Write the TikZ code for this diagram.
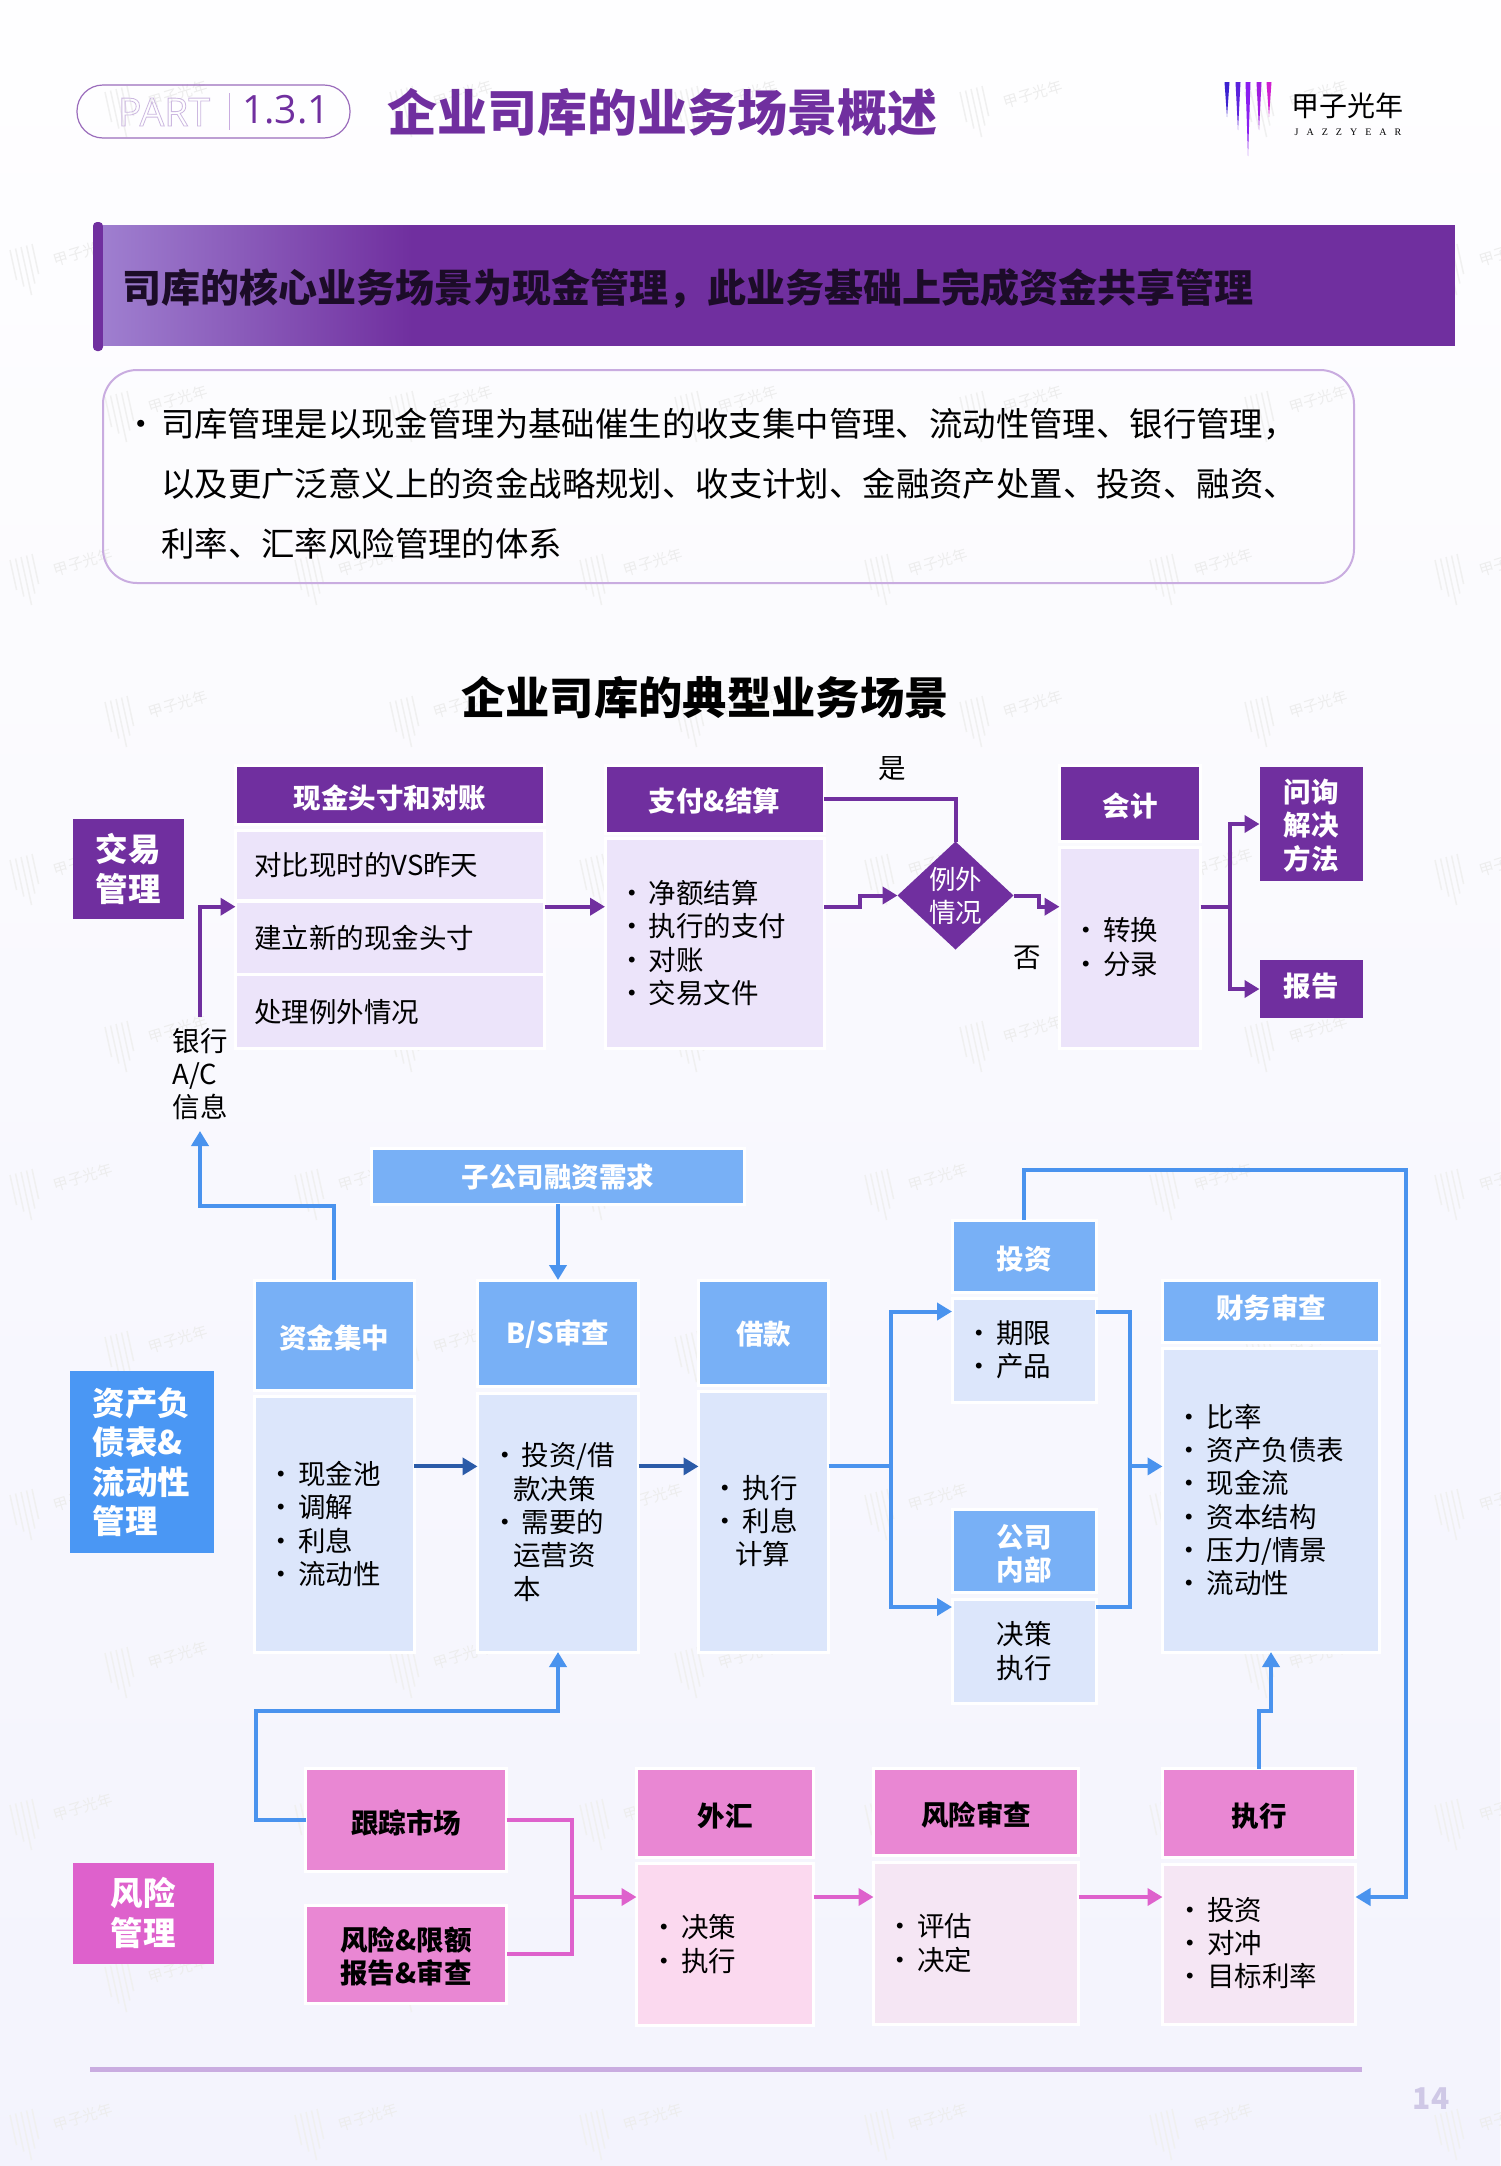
\documentclass[tikz,border=0pt]{standalone}
\usepackage{fontspec}
\setmainfont{Noto Sans CJK SC}
\newfontfamily\partfont{Open Sans}
\newfontfamily\logofont[LetterSpace=80]{Liberation Serif}
\usetikzlibrary{arrows.meta, positioning, shapes.geometric}
\definecolor{purdark}{HTML}{702F9F}
\definecolor{purlight}{HTML}{ECE4FA}
\definecolor{blutag}{HTML}{4A97F4}
\definecolor{bluhead}{HTML}{78B0F6}
\definecolor{blulight}{HTML}{DCE6FB}
\definecolor{blunavy}{HTML}{2B5BA8}
\definecolor{blueline}{HTML}{4A93EE}
\definecolor{pnktag}{HTML}{DE61CC}
\definecolor{pnkhead}{HTML}{E987D3}
\definecolor{pnklight}{HTML}{FBD9EF}
\definecolor{pnkpale}{HTML}{F5E6F4}
\definecolor{lilac}{HTML}{C9ACE0}
\definecolor{pagegrey}{HTML}{CFC8E6}
\newcommand{\bodyfont}{\fontsize{27.5}{33.3}\selectfont}
\newcommand{\tagfont}{\fontsize{32.5}{39.5}\selectfont\bfseries}
\newcommand{\itm}[1]{\makebox[31pt][l]{•}#1}
\newcommand{\hd}[2][-2.7pt]{\raisebox{#1}[\height][\depth]{#2}}
\tikzset{sized/.style 2 args={minimum width=#1pt+3pt, minimum height=#2pt+3pt}}
\tikzstyle{boxed} = [rectangle, draw=white, line width=3pt, inner sep=0pt, outer sep=0pt, align=center]
\tikzstyle{purhead} = [boxed, fill=purdark, text=white, font=\bodyfont\bfseries]
\tikzstyle{purbody} = [boxed, fill=purlight, font=\bodyfont]
\tikzstyle{bluhead} = [boxed, fill=bluhead, text=white, font=\bodyfont\bfseries]
\tikzstyle{blubody} = [boxed, fill=blulight, font=\bodyfont]
\tikzstyle{pnkhead} = [boxed, fill=pnkhead, font=\bodyfont\bfseries]
\tikzstyle{pnkbody} = [boxed, fill=pnklight]
\tikzstyle{pnkpale} = [boxed, fill=pnkpale]
\tikzstyle{sidetag} = [rectangle, inner sep=0pt, outer sep=0pt, text=white, align=center, font=\tagfont]
\tikzstyle{itemlist} = [inner sep=0pt, outer sep=0pt, anchor=west, align=left, font=\bodyfont]
\tikzstyle{plain} = [inner sep=0pt, outer sep=0pt, font=\bodyfont]
\tikzstyle{wmtext} = [rotate=17, text=black!7, font=\fontsize{15}{15}\selectfont]
\tikzstyle{wmbar} = [black!6, line width=1.5pt]
\tikzstyle{purline} = [purdark, line width=4pt]
\tikzstyle{blueln} = [blueline, line width=4pt]
\tikzstyle{pnkline} = [pnktag, line width=4pt]
\tikzstyle{purarrow} = [purline, -{Triangle[length=15pt, width=17pt]}]
\tikzstyle{bluarrow} = [blueln, -{Triangle[length=15pt, width=17pt]}]
\tikzstyle{navarrow} = [blunavy, line width=4pt, -{Triangle[length=15pt, width=17pt]}]
\tikzstyle{pnkarrow} = [pnkline, -{Triangle[length=15pt, width=17pt]}]
\begin{document}
\begin{tikzpicture}[x=1pt, y=-1pt]
  \useasboundingbox (0,0) rectangle (1500,2166);
  \shade[top color=white!60!purlight!8, bottom color=blulight!45!purlight!45] (0,0) rectangle (1500,2166);

  \foreach \wx/\wy in {105/92,390/92,675/92,960/92,1245/92,10/250,1435/250,
      105/397,390/397,675/397,960/397,1245/397,10/560,295/560,580/560,865/560,1150/560,1435/560,
      105/702,390/702,675/702,960/702,1245/702,10/860,295/860,580/860,865/860,1150/860,1435/860,
      105/1027,390/1027,675/1027,960/1027,1245/1027,10/1175,295/1175,580/1175,865/1175,1150/1175,1435/1175,
      105/1337,390/1337,675/1337,960/1337,1245/1337,10/1495,295/1495,580/1495,865/1495,1150/1495,1435/1495,
      105/1653,390/1653,675/1653,960/1653,1245/1653,10/1805,295/1805,580/1805,865/1805,1150/1805,1435/1805,
      105/1967,390/1967,675/1967,960/1967,1245/1967,10/2115,295/2115,580/2115,865/2115,1150/2115,1435/2115} {
    \foreach \k/\len in {0/30,1/38,2/48,3/38,4/30}
      \draw[wmbar] (\wx+5.5*\k,\wy-1.5*\k) -- ++(0.22*\len,\len);
    \node[wmtext] at (\wx+73,\wy+2) {甲子光年};
  }

  \node[draw=purdark!70, line width=1.2pt, rounded corners=26pt, minimum width=273pt, minimum height=53pt, inner sep=0pt] (pill) at (213.5,111.5) {};
  \node[inner sep=0pt, font=\partfont\fontsize{39}{39}\selectfont] (partword) at (164,112) {\special{pdf:code 1 Tr 0.8 w 0.80 0.72 0.88 RG}PART\special{pdf:code 0 Tr}};
  \node[inner sep=0pt, text=purdark, font=\partfont\fontsize{39}{39}\selectfont] (partnum) at (286,110) {1.3.1};
  \draw[lilac, line width=1pt] (229,93) -- (229,130);
  \node[inner sep=0pt, anchor=west, text=purdark, font=\fontsize{50}{50}\selectfont\bfseries] (pagetitle) at (387,112) {企业司库的业务场景概述};

  \foreach \lx/\ly/\lc in {1227/117/3C22D0,1238/130/5A22DC,1248/156/8A1EF0,1259/130/A01EE0,1269/117/D01FD0} {
    \definecolor{spike}{HTML}{\lc}
    \fill[spike] (\lx-2.5,82) -- (\lx+2.5,82) -- (\lx,\ly) -- cycle;
  }
  \node[inner sep=0pt, font=\fontsize{28}{28}\selectfont] (logoname) at (1347,106) {甲子光年};
  \node[inner sep=0pt, font=\logofont\fontsize{10}{10}\selectfont] (logoword) at (1348,132) {JAZZYEAR};

  \fill[purdark, rounded corners=4pt] (93,222) rectangle (103,351);
  \fill[purdark] (103,225) rectangle (1455,346);
  \shade[left color=purdark!55!white!90!blue, right color=purdark] (103,225.5) rectangle (412,345.5);
  \node[inner sep=0pt, anchor=west, text=black!75!purdark, font=\fontsize{39}{39}\selectfont\bfseries] (banner) at (122,289) {司库的核心业务场景为现金管理，此业务基础上完成资金共享管理};

  \node[draw=lilac, line width=2pt, rounded corners=34pt, minimum width=1251pt, minimum height=213pt, inner sep=0pt] (introbox) at (728.5,476.5) {};
  \node[inner sep=0pt, anchor=west, align=left, font=\fontsize{33.4}{60}\selectfont] (introtext) at (124,484) {\makebox[37pt][l]{•}司库管理是以现金管理为基础催生的收支集中管理、流动性管理、银行管理，\\\hspace*{37pt}以及更广泛意义上的资金战略规划、收支计划、金融资产处置、投资、融资、\\\hspace*{37pt}利率、汇率风险管理的体系};

  \node[inner sep=0pt, font=\fontsize{44.3}{44.3}\selectfont\bfseries] (maintitle) at (705,698) {企业司库的典型业务场景};

  \coordinate (ytop) at (0,906.7);
  \coordinate (ybot) at (0,1466.4);
  \coordinate (yrisk) at (0,1897);

  \node[sidetag, fill=purdark, minimum width=111pt, minimum height=100pt] (tradetag) at (128,869) {交易\\管理};
  \node[purhead, sized={306}{56}] (cashhead) at (390,795) {\hd{现金头寸和对账}};
  \node[purbody, sized={306}{67}] (cashrowa) at (390,865) {};
  \node[purbody, sized={306}{70}] (cashrowb) at (390,938) {};
  \node[purbody, sized={306}{71}] (cashrowc) at (390,1011) {};
  \node[plain, anchor=west] (cashtxta) at (254,865) {对比现时的VS昨天};
  \node[plain, anchor=west] (cashtxtb) at (254,938) {建立新的现金头寸};
  \node[plain, anchor=west] (cashtxtc) at (254,1012) {处理例外情况};
  \node[purhead, sized={216}{65}] (payhead) at (714.5,799) {\hd[-1.5pt]{支付\&结算}};
  \node[purbody, sized={216}{207}] (paybody) at (714.5,943) {};
  \node[itemlist] (paylist) at (618,943) {\itm{净额结算}\\\itm{执行的支付}\\\itm{对账}\\\itm{交易文件}};
  \node[diamond, fill=purdark, text=white, inner sep=-6pt, outer sep=0pt, minimum width=116pt, minimum height=108pt, align=center, font=\fontsize{26.5}{33}\selectfont] (excp) at (955.5,895.5) {例外\\情况};
  \node[purhead, sized={138}{73}] (accthead) at (1130,803) {\hd{会计}};
  \node[purbody, sized={138}{198}] (acctbody) at (1130,947.5) {};
  \node[itemlist] (acctlist) at (1072,947) {\itm{转换}\\\itm{分录}};
  \node[sidetag, fill=purdark, font=\bodyfont\bfseries, minimum width=103pt, minimum height=114pt] (solve) at (1311,824) {\hd[-1.5pt]{问询}\\\hd[-1.5pt]{解决}\\\hd[-1.5pt]{方法}};
  \node[sidetag, fill=purdark, font=\bodyfont\bfseries, minimum width=103pt, minimum height=58pt] (report) at (1311,989) {\hd[3pt]{报告}};
  \node[plain] (yeslabel) at (892,769) {是};
  \node[plain] (nolabel) at (1027,958) {否};
  \node[plain, inner ysep=11pt, align=left] (bankinfo) at (200,1074) {银行\\A/C\\信息};

  \node[bluhead, sized={370}{53}] (needs) at (558,1176) {\hd[-1.5pt]{子公司融资需求}};
  \node[sidetag, fill=blutag, anchor=center, minimum width=144pt, minimum height=182pt, align=left] (balancetag) at (141.6,1462) {资产负\\债表\&\\流动性\\管理};
  \node[bluhead, sized={157}{107}] (fundhead) at (334,1335) {\hd{资金集中}};
  \node[blubody, sized={157}{253}] (fundbody) at (334,1524) {};
  \node[itemlist] (fundlist) at (267.5,1524) {\itm{现金池}\\\itm{调解}\\\itm{利息}\\\itm{流动性}};
  \node[bluhead, sized={158}{103}] (bshead) at (558,1333) {\hd[-1.5pt]{B/S审查}};
  \node[blubody, sized={158}{256}] (bsbody) at (558,1522.5) {};
  \node[itemlist] (bslist) at (491,1522) {\itm{投资/借}\\\hspace*{22pt}款决策\\\itm{需要的}\\\hspace*{22pt}运营资\\\hspace*{22pt}本};
  \node[bluhead, sized={127}{102}] (loanhead) at (763.5,1332.5) {\hd[-1.5pt]{借款}};
  \node[blubody, sized={127}{258}] (loanbody) at (763.5,1521.5) {};
  \node[itemlist] (loanlist) at (711.5,1521) {\itm{执行}\\\itm{利息}\\\hspace*{23.5pt}计算};
  \node[bluhead, sized={141}{69}] (invhead) at (1024,1256) {\hd{投资}};
  \node[blubody, sized={141}{101}] (invbody) at (1024,1350) {};
  \node[itemlist] (invlist) at (965,1350) {\itm{期限}\\\itm{产品}};
  \node[bluhead, sized={141}{80}] (innerhead) at (1024,1551) {\hd{公司}\\\hd{内部}};
  \node[blubody, sized={141}{101}] (innerbody) at (1024,1651) {决策\\执行};
  \node[bluhead, sized={214}{59}] (finhead) at (1271,1311) {\hd[3pt]{财务审查}};
  \node[blubody, sized={214}{301}] (finbody) at (1271,1500) {};
  \node[itemlist] (finlist) at (1175.5,1500) {\itm{比率}\\\itm{资产负债表}\\\itm{现金流}\\\itm{资本结构}\\\itm{压力/情景}\\\itm{流动性}};

  \node[sidetag, fill=pnktag, minimum width=141pt, minimum height=101pt] (risktag) at (143.4,1913) {风险\\管理};
  \node[pnkhead, sized={198}{100}] (track) at (406,1820) {\hd{跟踪市场}};
  \node[pnkhead, sized={198}{95}] (limit) at (406,1954) {\hd{风险\&限额}\\\hd{报告\&审查}};
  \node[pnkhead, sized={174}{86}] (fxhead) at (725,1813) {\hd{外汇}};
  \node[pnkbody, sized={174}{159}] (fxbody) at (725,1944.5) {};
  \node[itemlist] (fxlist) at (650,1944) {\itm{决策}\\\itm{执行}};
  \node[pnkhead, sized={202}{84}] (riskhead) at (976,1812) {\hd{风险审查}};
  \node[pnkpale, sized={202}{159}] (riskbody) at (976,1943) {};
  \node[itemlist] (risklist) at (886,1943) {\itm{评估}\\\itm{决定}};
  \node[pnkhead, sized={190}{86}] (exechead) at (1259,1813) {\hd{执行}};
  \node[pnkpale, sized={190}{157}] (execbody) at (1259,1944) {};
  \node[itemlist] (execlist) at (1176,1943) {\itm{投资}\\\itm{对冲}\\\itm{目标利率}};

  \draw[purarrow] (cashrowb.east |- ytop) -- (paybody.west |- ytop);
  \draw[purarrow] (bankinfo.north) |- (cashrowb.west |- ytop);
  \draw[purline] (payhead.east) -| (excp.north);
  \draw[purarrow] (paybody.east |- ytop) -- ++(36,0) |- (excp.west);
  \draw[purarrow] (excp.east) -- ++(25,0) |- (acctbody.west |- ytop);
  \draw[purline] (acctbody.east |- ytop) -- ++(29,0) coordinate (acctfork);
  \draw[purarrow] (acctfork) |- (solve.west);
  \draw[purarrow] (acctfork) |- (report.west);

  \draw[bluarrow] (needs.south) -- (bshead.north);
  \draw[bluarrow] (fundhead.north) -- ++(0,-74) -| (bankinfo.south);
  \draw[navarrow] (fundbody.east |- ybot) -- (bsbody.west |- ybot);
  \draw[navarrow] (bsbody.east |- ybot) -- (loanbody.west |- ybot);
  \draw[blueln] (loanbody.east |- ybot) -- ++(62,0) coordinate (loanfork);
  \draw[bluarrow] (loanfork) |- ([yshift=38.5pt]invbody.west);
  \draw[bluarrow] (loanfork) |- ([yshift=44pt]innerbody.west);
  \draw[blueln] ([yshift=38.5pt]invbody.east) -- ++(34,0) coordinate (revfork) |- ([yshift=44pt]innerbody.east);
  \draw[bluarrow] (revfork |- ybot) -- (finbody.west |- ybot);
  \coordinate (loopcorner) at (1405.6,1170);
  \draw[bluarrow] (invhead.north) |- (loopcorner) |- (execbody.east |- yrisk);
  \draw[bluarrow] (exechead.north) -- ++(0,-57.5) -| (finbody.south);
  \coordinate (riskup) at (255.6,1710.7);
  \draw[bluarrow] (track.west) -| (riskup) -| (bsbody.south);

  \draw[pnkline] (track.east) -- ++(65,0) coordinate (riskfork) |- (limit.east);
  \draw[pnkarrow] (riskfork |- yrisk) -- (fxbody.west |- yrisk);
  \draw[pnkarrow] (fxbody.east |- yrisk) -- (riskbody.west |- yrisk);
  \draw[pnkarrow] (riskbody.east |- yrisk) -- (execbody.west |- yrisk);

  \draw[lilac, line width=5pt] (90,2069) -- (1362,2069);
  \node[inner sep=0pt, text=pagegrey, font=\fontsize{30}{30}\selectfont\bfseries] (pagenum) at (1431,2099) {14};
\end{tikzpicture}
\end{document}
